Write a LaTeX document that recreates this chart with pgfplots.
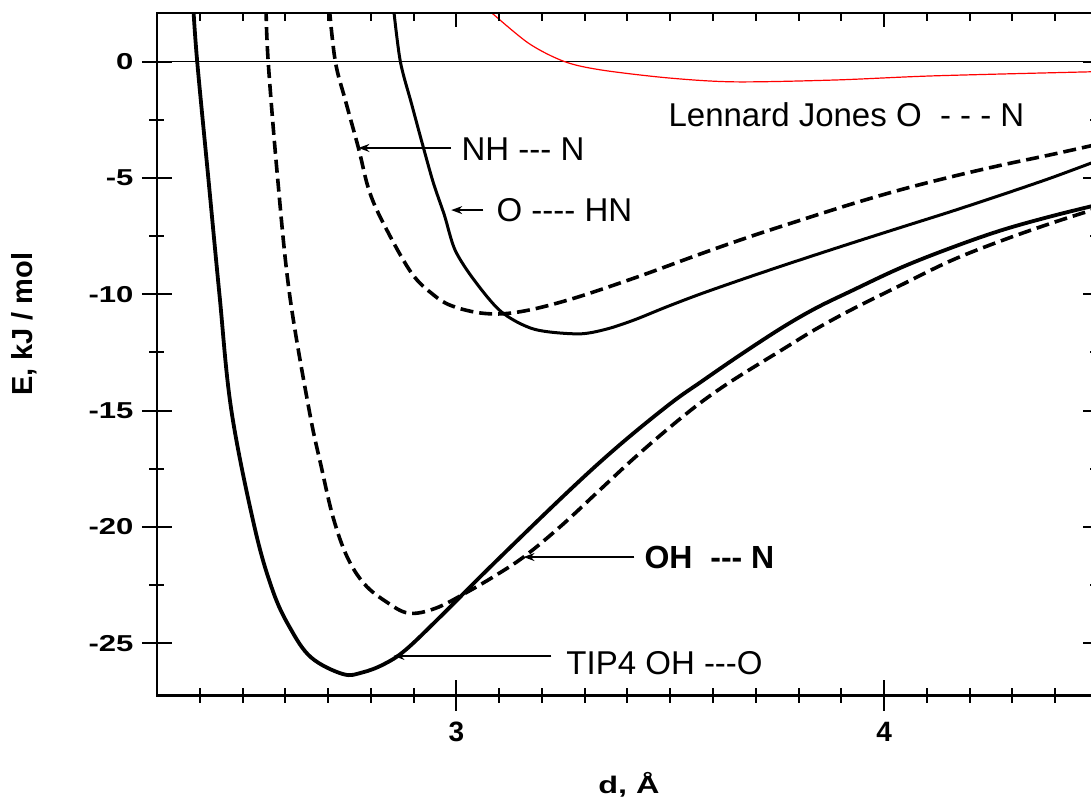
\documentclass[border=0pt]{standalone}
\usepackage{fontspec}
\setmainfont{Liberation Sans}[Ligatures=TeXOff]
\newfontfamily\ytfont[FakeStretch=1.35]{Liberation Sans}
\newfontfamily\xlfont[FakeStretch=1.35]{Liberation Sans}
\usepackage{pgfplots}
\pgfplotsset{compat=1.18}
\usetikzlibrary{arrows.meta}
\begin{document}
\begin{tikzpicture}
\begin{axis}[
  scale only axis, width=940.9pt, height=682.5pt,
  xmin=2.3, xmax=4.5, ymin=-27.24, ymax=2.09,
  axis line style={line width=2.2pt},
  xtick={3,4}, xticklabels={3,4},
  minor xtick={2.4,2.5,2.6,2.7,2.8,2.9,3.1,3.2,3.3,3.4,3.5,3.6,3.7,3.8,3.9,4.1,4.2,4.3,4.4},
  ytick={-25,-20,-15,-10,-5,0}, yticklabels={-25,-20,-15,-10,-5,0},
  minor ytick={-22.5,-17.5,-12.5,-7.5,-2.5},
  xtick pos=bottom, ytick pos=both, tick align=center,
  major tick length=30pt, minor tick length=15pt,
  tick style={line width=2pt, black},
  xticklabel style={font=\fontsize{28}{28}\selectfont\bfseries, yshift=-8pt},
  yticklabel style={font=\ytfont\fontsize{23}{23}\selectfont\bfseries, xshift=-5pt},
  every axis y label/.style={at={(axis description cs:-0.1318,0.544)}, rotate=90, anchor=base, font=\fontsize{29}{29}\selectfont\bfseries},
  every axis x label/.style={at={(axis description cs:0.5017,-0.1429)}, anchor=base, font=\xlfont\fontsize{24}{24}\selectfont\bfseries},
  ylabel={E, kJ / mol},
  xlabel={d, Å},
  clip=true,
]
\draw[line width=1.6pt] (axis cs:2.3,0) -- (axis cs:4.5,0);
% TIP4 OH---O
\addplot[line width=3.8pt, smooth, tension=0.6, line join=round] coordinates {
(2.385,2.3) (2.394,0) (2.420,-5) (2.446,-10) (2.474,-15) (2.528,-20)
(2.57,-22.7) (2.61,-24.3) (2.66,-25.6) (2.735,-26.32) (2.78,-26.25)
(2.83,-25.9) (2.88,-25.3) (2.96,-23.9) (3.08,-21.7) (3.26,-18.5) (3.38,-16.5)
(3.5,-14.7) (3.573,-13.75) (3.66,-12.65) (3.76,-11.45) (3.84,-10.6) (3.924,-9.85)
(4.04,-8.85) (4.157,-8.0) (4.274,-7.25) (4.39,-6.65) (4.5,-6.15)};
% OH---N
\addplot[line width=3.6pt, smooth, tension=0.6, dash pattern=on 13pt off 6pt] coordinates {
(2.555,2.3) (2.56,0) (2.582,-5) (2.61,-10) (2.656,-15) (2.684,-17.4) (2.712,-19.6)
(2.745,-21.3) (2.785,-22.45) (2.835,-23.2) (2.888,-23.7) (2.95,-23.5) (3.02,-22.85)
(3.09,-22.1) (3.16,-21.25) (3.245,-19.95) (3.33,-18.5) (3.415,-17.05) (3.5,-15.7)
(3.575,-14.6) (3.65,-13.65) (3.76,-12.4) (3.84,-11.5) (3.93,-10.6) (4.04,-9.6)
(4.157,-8.55) (4.274,-7.7) (4.39,-6.95) (4.5,-6.3)};
% NH---N
\addplot[line width=3.6pt, smooth, tension=0.6, dash pattern=on 13pt off 6pt] coordinates {
(2.703,2.3) (2.717,0) (2.741,-1.7) (2.771,-3.71) (2.797,-5.6) (2.835,-7.15) (2.895,-9.08)
(2.945,-10.0) (2.99,-10.5) (3.065,-10.82) (3.145,-10.76) (3.262,-10.24) (3.416,-9.3)
(3.573,-8.25) (3.69,-7.5) (3.807,-6.8) (3.924,-6.12) (4.04,-5.5) (4.157,-4.95)
(4.274,-4.45) (4.39,-4.0) (4.5,-3.55)};
% O---HN
\addplot[line width=3.0pt, smooth, tension=0.5] coordinates {
(2.853,2.3) (2.869,0) (2.895,-1.8) (2.92,-3.5) (2.946,-5.2) (2.972,-6.6) (2.997,-8.1)
(3.042,-9.4) (3.105,-10.75) (3.182,-11.5) (3.285,-11.7) (3.35,-11.5) (3.416,-11.1)
(3.49,-10.55) (3.573,-9.97) (3.69,-9.22) (3.807,-8.5) (3.924,-7.8) (4.04,-7.12)
(4.157,-6.44) (4.274,-5.73) (4.39,-5.0) (4.5,-4.25)};
% Lennard Jones
\addplot[red, line width=1.2pt, smooth, tension=0.5] coordinates {
(3.07,2.3) (3.168,0.8) (3.253,0) (3.339,-0.36) (3.495,-0.7) (3.651,-0.87)
(3.885,-0.79) (4.119,-0.61) (4.5,-0.43)};
% annotations
\begin{scope}[every node/.style={inner sep=0pt, anchor=base west, font=\fontsize{33}{33}\selectfont}]
\node at (axis cs:3.0117,-4.23) {NH --- N};
\node at (axis cs:3.0935,-6.89) {O ---- HN};
\node at (axis cs:3.4957,-2.77) {Lennard Jones O\ \ -\ -\ -\ N};
\node[font=\fontsize{32}{32}\selectfont\bfseries] at (axis cs:3.4396,-21.8) {OH\ \ --- N};
\node at (axis cs:3.257,-26.32) {TIP4 OH ---O};
\end{scope}
\begin{scope}[line width=1.3pt, -{Stealth[length=11pt,width=8pt]}]
\draw (axis cs:2.988,-3.71) -- (axis cs:2.771,-3.71);
\draw (axis cs:3.063,-6.38) -- (axis cs:2.988,-6.38);
\draw (axis cs:3.416,-21.29) -- (axis cs:3.157,-21.29);
\draw (axis cs:3.222,-25.54) -- (axis cs:2.853,-25.54);
\end{scope}
\end{axis}
\begin{axis}[
  scale only axis, width=940.9pt, height=682.5pt,
  xmin=2.3, xmax=4.5, ymin=-27.24, ymax=2.09,
  axis x line*=top, axis y line=none,
  x axis line style={-, line width=2.2pt},
  xtick={3,4}, xticklabels={},
  minor xtick={2.4,2.5,2.6,2.7,2.8,2.9,3.1,3.2,3.3,3.4,3.5,3.6,3.7,3.8,3.9,4.1,4.2,4.3,4.4},
  tick align=inside, major tick length=14pt, minor tick length=8pt,
  tick style={line width=2pt, black},
]
\end{axis}
\pgfresetboundingbox
\path[use as bounding box] ([xshift=-157pt,yshift=-103.5pt]current axis.south west) rectangle ([xshift=934pt,yshift=13pt]current axis.north west);
\end{tikzpicture}
\end{document}
